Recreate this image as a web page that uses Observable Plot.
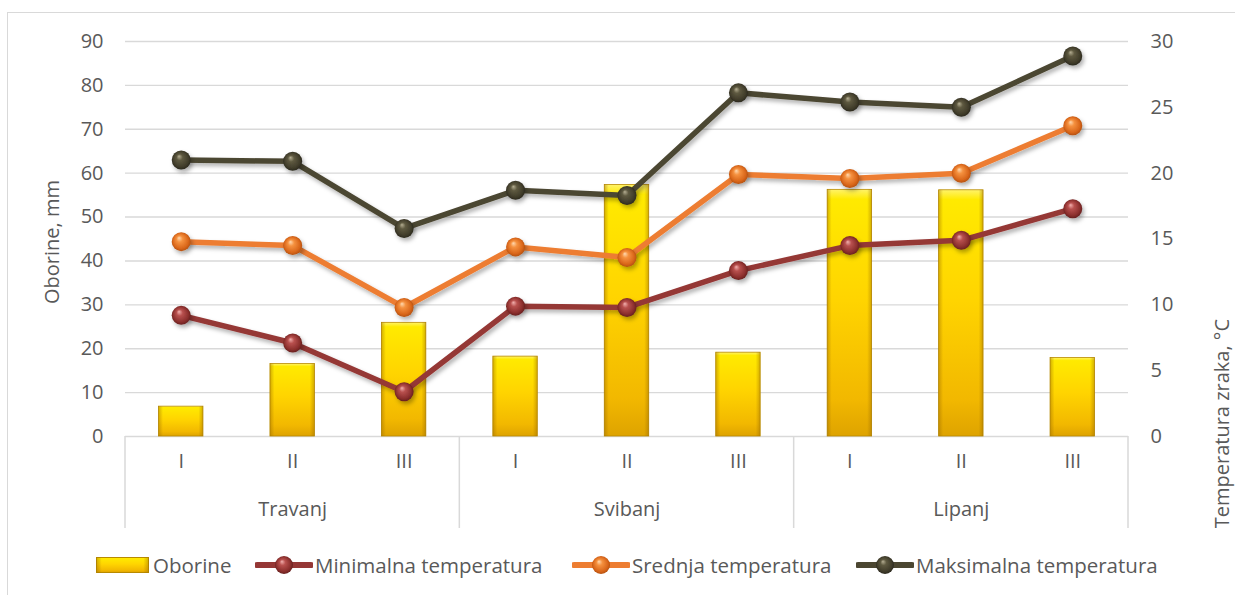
<!DOCTYPE html>
<html>
<head>
<meta charset="utf-8">
<script src="https://cdn.jsdelivr.net/npm/d3@7"></script>
<script src="https://cdn.jsdelivr.net/npm/@observablehq/plot@0.6"></script>
<style>
  html, body { margin: 0; padding: 0; background: #fff; overflow: hidden; }
  #wrap { position: relative; width: 1235px; height: 595px; font-family: "Open Sans", sans-serif; color: #595959; }
  #frame { position: absolute; left: 7px; top: 12px; width: 1300px; height: 700px; border: 1.5px solid #d9d9d9; box-sizing: border-box; }
  #chart { position: absolute; left: 0; top: 0; }
  .leg { position: absolute; top: 552px; height: 26px; display: flex; align-items: center; font-size: 20.5px; white-space: nowrap; }
  .leg svg { display: block; }
</style>
</head>
<body>
<div id="wrap">
  <div id="frame"></div>
  <div id="chart"></div>
  <div class="leg" style="left:96px"><svg width="53" height="16"><rect x="0.5" y="0.5" width="52" height="15" fill="url(#gBarV)" stroke="#b88a00"/><rect x="0.5" y="0.5" width="52" height="15" fill="url(#gBarH)"/></svg><span style="margin-left:4px">Oborine</span></div>
  <div class="leg" style="left:255px"><svg width="58" height="22"><line x1="2" x2="56" y1="11" y2="11" stroke="#953735" stroke-width="6" stroke-linecap="round"/><circle cx="29" cy="11" r="9" fill="url(#gMin)"/></svg><span style="margin-left:2px">Minimalna temperatura</span></div>
  <div class="leg" style="left:572px"><svg width="58" height="22"><line x1="2" x2="56" y1="11" y2="11" stroke="#ED7D31" stroke-width="6" stroke-linecap="round"/><circle cx="29" cy="11" r="9" fill="url(#gMean)"/></svg><span style="margin-left:2px">Srednja temperatura</span></div>
  <div class="leg" style="left:856px"><svg width="58" height="22"><line x1="2" x2="56" y1="11" y2="11" stroke="#4B4631" stroke-width="6" stroke-linecap="round"/><circle cx="29" cy="11" r="9" fill="url(#gMax)"/></svg><span style="margin-left:2px">Maksimalna temperatura</span></div>
</div>
<script>
// ---- data ----
const months = ["Travanj", "Svibanj", "Lipanj"];
const decades = ["I", "II", "III"];
const oborine = [6.8, 16.5, 25.9, 18.2, 57.3, 19.1, 56.2, 56.1, 17.9];
const tMin  = [9.2, 7.1, 3.4, 9.9, 9.8, 12.6, 14.5, 14.9, 17.3];
const tMean = [14.8, 14.5, 9.8, 14.4, 13.6, 19.9, 19.6, 20.0, 23.6];
const tMax  = [21.0, 20.9, 15.8, 18.7, 18.3, 26.1, 25.4, 25.0, 28.9];
const mmTicks = [0, 10, 20, 30, 40, 50, 60, 70, 80, 90];
const tempTicks = [0, 5, 10, 15, 20, 25, 30];

// ---- derived ----
const mmMax = mmTicks[mmTicks.length - 1];
const tempMax = tempTicks[tempTicks.length - 1];
const k = mmMax / tempMax; // temperature -> precipitation axis
const cats = months.flatMap(m => decades.map(d => `${m}|${d}`));
const rows = cats.map((c, i) => ({
  cat: c, month: c.split("|")[0], dec: c.split("|")[1],
  rain: oborine[i], tmin: tMin[i], tmean: tMean[i], tmax: tMax[i]
}));

function defsMark() {
  const defs = d3.create("svg:defs");
  const lg = defs.append("linearGradient").attr("id", "gBarV").attr("x1", 0).attr("y1", 0).attr("x2", 0).attr("y2", 1);
  [[0, "#fff36a"], [0.04, "#ffea00"], [0.45, "#ffd400"], [0.85, "#f2b800"], [1, "#dea300"]]
    .forEach(([o, c]) => lg.append("stop").attr("offset", o).attr("stop-color", c));
  const lh = defs.append("linearGradient").attr("id", "gBarH").attr("x1", 0).attr("y1", 0).attr("x2", 1).attr("y2", 0);
  [[0, "#9a6a00", 0.45], [0.1, "#9a6a00", 0], [0.9, "#9a6a00", 0], [1, "#9a6a00", 0.45]]
    .forEach(([o, c, a]) => lh.append("stop").attr("offset", o).attr("stop-color", c).attr("stop-opacity", a));
  const sphere = (id, stops) => {
    const rg = defs.append("radialGradient").attr("id", id).attr("cx", "0.5").attr("cy", "0.5").attr("r", "0.55").attr("fx", "0.38").attr("fy", "0.3");
    stops.forEach(([o, c]) => rg.append("stop").attr("offset", o).attr("stop-color", c));
  };
  sphere("gMin", [[0, "#f2b0ae"], [0.3, "#b8504e"], [0.75, "#8a2e2c"], [1, "#5a1c1b"]]);
  sphere("gMean", [[0, "#ffd9b0"], [0.3, "#f5913f"], [0.75, "#d9661a"], [1, "#a84a0c"]]);
  sphere("gMax", [[0, "#b5ae92"], [0.3, "#5e5940"], [0.75, "#403c2a"], [1, "#24221a"]]);
  const f = defs.append("filter").attr("id", "shadow").attr("filterUnits", "userSpaceOnUse")
    .attr("x", 0).attr("y", 0).attr("width", 1235).attr("height", 545);
  f.append("feDropShadow").attr("dx", 2).attr("dy", 3).attr("stdDeviation", 2).attr("flood-color", "#000").attr("flood-opacity", 0.3);
  return defs.node();
}

function dividers(index, scales, values, dims) {
  const x = scales.x;
  const bw = x.bandwidth ? x.bandwidth() : 0;
  const y0 = dims.height - dims.marginBottom;
  const g = d3.create("svg:g").attr("stroke", "#d9d9d9").attr("stroke-width", 1.5);
  const xs = months.map(m => x(`${m}|${decades[0]}`));
  xs.push(x(cats[cats.length - 1]) + bw);
  for (const xx of xs) {
    g.append("line").attr("x1", xx).attr("x2", xx).attr("y1", y0).attr("y2", y0 + 92);
  }
  return g.node();
}

const series = [
  {key: "tmin", line: "#953735", grad: "url(#gMin)"},
  {key: "tmean", line: "#ED7D31", grad: "url(#gMean)"},
  {key: "tmax", line: "#4B4631", grad: "url(#gMax)"}
];

const chart = Plot.plot({
  width: 1235,
  height: 545,
  marginLeft: 125,
  marginRight: 107,
  marginTop: 41,
  marginBottom: 109,
  style: {fontFamily: "'Open Sans', sans-serif", fontSize: "20px", color: "#595959", background: "transparent"},
  x: {domain: cats, padding: 0, round: false, axis: null},
  y: {domain: [0, mmMax], axis: null},
  marks: [
    defsMark,
    Plot.ruleY(mmTicks, {stroke: "#d9d9d9", strokeWidth: 1.4}),
    Plot.axisY({anchor: "left", ticks: mmTicks, tickSize: 0, tickPadding: 22, label: null, fill: "#595959"}),
    Plot.axisY({anchor: "right", ticks: tempTicks.map(t => t * k), tickFormat: d => d / k, tickSize: 0, tickPadding: 22, label: null, fill: "#595959"}),
    Plot.text(["Oborine, mm"], {frameAnchor: "left", rotate: -90, dx: -73, dy: 65, fill: "#595959"}),
    Plot.text(["Temperatura zraka, °C"], {frameAnchor: "right", rotate: -90, dx: 94, dy: 80, fill: "#595959"}),
    dividers,
    Plot.text(rows, {x: "cat", text: "dec", frameAnchor: "bottom", dy: 31, fill: "#595959"}),
    Plot.text(months, {x: m => `${m}|${decades[1]}`, text: m => m, frameAnchor: "bottom", dy: 79, fill: "#595959"}),
    Plot.barY(rows, {x: "cat", y: "rain", fill: "url(#gBarV)", stroke: "#b88a00", strokeWidth: 0.8, insetLeft: 33.5, insetRight: 33.5}),
    Plot.barY(rows, {x: "cat", y: "rain", fill: "url(#gBarH)", insetLeft: 33.5, insetRight: 33.5}),
    ...series.flatMap(s => [
      Plot.line(rows, {x: "cat", y: d => d[s.key] * k, stroke: s.line, strokeWidth: 5.5}),
      Plot.dot(rows, {x: "cat", y: d => d[s.key] * k, r: 9.5, fill: s.grad, stroke: "none"})
    ])
  ]
});

chart.querySelectorAll('g[aria-label="line"], g[aria-label="dot"]').forEach(g => g.setAttribute("filter", "url(#shadow)"));
document.getElementById("chart").appendChild(chart);
</script>
</body>
</html>
